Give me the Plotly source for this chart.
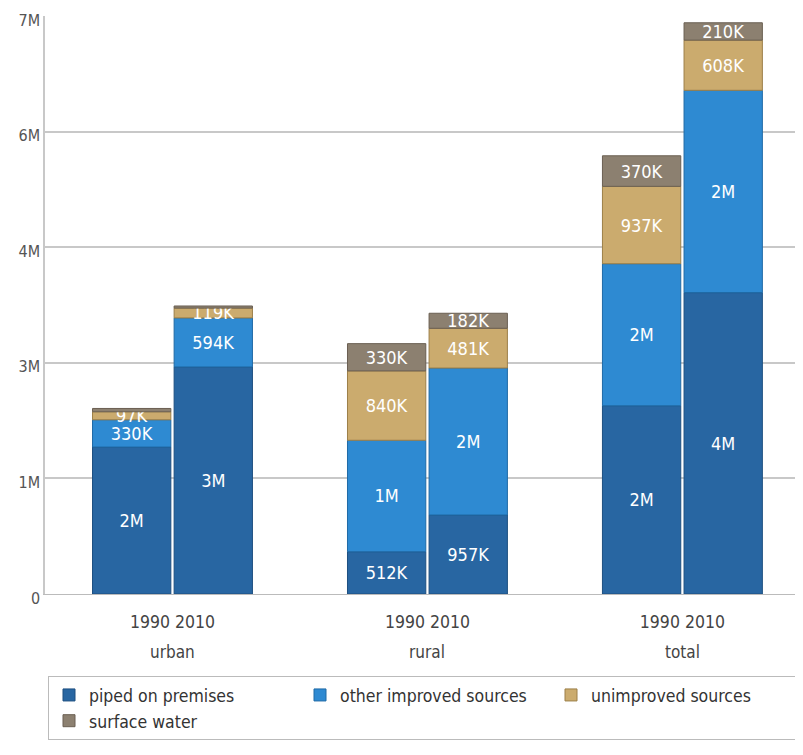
import plotly.graph_objects as go

groups = ["urban", "rural", "total"]
years = ["1990", "2010"]
series = ["piped on premises", "other improved sources", "unimproved sources", "surface water"]

# values per series: [urban, rural, total] for each year
piped_1990 = [1.78e6, 512e3, 2.28e6]
piped_2010 = [2.75e6, 957e3, 3.65e6]
other_1990 = [330e3, 1.35e6, 1.72e6]
other_2010 = [594e3, 1.78e6, 2.45e6]
unimp_1990 = [97e3, 840e3, 937e3]
unimp_2010 = [119e3, 481e3, 608e3]
surf_1990 = [40e3, 330e3, 370e3]
surf_2010 = [25e3, 182e3, 210e3]

tick_vals = [0, 1.4e6, 2.8e6, 4.2e6, 5.6e6, 7.0e6]

colors = ["#2866a2", "#2e8ad2", "#cbab6e", "#8c8070"]
line_colors = ["#1d4f80", "#1f6aa6", "#9c7f48", "#6a5f52"]

data = {
    "1990": [piped_1990, other_1990, unimp_1990, surf_1990],
    "2010": [piped_2010, other_2010, unimp_2010, surf_2010],
}

FONT = "DejaVu Sans Condensed, DejaVu Sans, sans-serif"


def fmt(v):
    if v >= 1e6:
        return f"{round(v / 1e6)}M"
    return f"{round(v / 1e3)}K"


def tick_fmt(v):
    if v == 0:
        return "0"
    return f"{round(v / 1e6)}M"


fig = go.Figure()
for year in years:
    base = [0, 0, 0]
    for i, name in enumerate(series):
        vals = data[year][i]
        texts = [fmt(v) if v >= 50e3 else "" for v in vals]
        fig.add_trace(go.Bar(
            x=groups, y=vals, base=list(base),
            name=name, legendgroup=name, showlegend=(year == "1990"),
            offsetgroup=year,
            marker=dict(color=colors[i], line=dict(color=line_colors[i], width=1)),
            text=texts, textposition="inside", insidetextanchor="middle",
            constraintext="none",
            textfont=dict(color="white", size=18, family=FONT),
            hoverinfo="skip",
        ))
        base = [b + v for b, v in zip(base, vals)]

for g in groups:
    fig.add_annotation(x=g, xref="x", y=-0.1003, yref="paper", yanchor="middle",
                       text=g, showarrow=False, font=dict(size=17, color="#444", family=FONT))

fig.update_layout(
    width=795, height=747,
    margin=dict(l=37, r=0, t=8, b=161),
    barmode="group", bargap=0.36, bargroupgap=0.04,
    plot_bgcolor="white", paper_bgcolor="white",
    font=dict(family=FONT, color="#444", size=16),
    uniformtext=dict(minsize=18, mode="show"),
    legend=dict(
        orientation="h", x=0.007, xanchor="left", y=-0.142, yanchor="top",
        bordercolor="#bbbbbb", borderwidth=1,
        entrywidth=206, entrywidthmode="pixels",
        font=dict(size=17.5, color="#333", family=FONT),
        traceorder="normal",
    ),
    xaxis=dict(
        range=[-0.5, 2.473],
        tickvals=groups,
        ticktext=["1990 2010" for g in groups],
        tickfont=dict(size=17.5, color="#444"),
        ticklabelstandoff=12,
        showline=True, linecolor="#bbbbbb", ticks="",
        showgrid=False, automargin=False,
    ),
    yaxis=dict(
        range=[0, 7e6],
        tickvals=tick_vals,
        ticktext=[tick_fmt(v) for v in tick_vals],
        tickfont=dict(size=16, color="#555"),
        ticklabeloverflow="allow",
        ticklabelshift=4,
        showgrid=True, gridcolor="#c8c8c8", gridwidth=1.5,
        showline=True, linecolor="#c8c8c8", linewidth=1.5,
        zeroline=False, ticks="", automargin=False,
    ),
)

fig.write_html("out.html")
